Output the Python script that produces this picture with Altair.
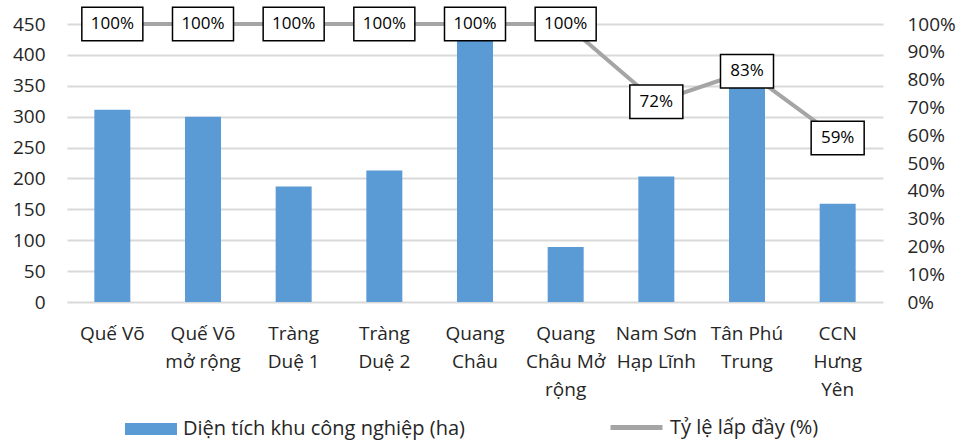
import altair as alt
import pandas as pd

# Industrial parks: area (ha) and occupancy rate
parks = [
    "Quế Võ",
    "Quế Võ\nmở rộng",
    "Tràng\nDuệ 1",
    "Tràng\nDuệ 2",
    "Quang\nChâu",
    "Quang\nChâu Mở\nrộng",
    "Nam Sơn\nHạp Lĩnh",
    "Tân Phú\nTrung",
    "CCN\nHưng\nYên",
]
area_ha = [311, 300, 187, 213, 426, 89, 203, 350, 159]
occupancy = [1.00, 1.00, 1.00, 1.00, 1.00, 1.00, 0.72, 0.83, 0.59]

AREA_NAME = "Diện tích khu công nghiệp (ha)"
RATE_NAME = "Tỷ lệ lấp đầy (%)"

FONT = "Open Sans"
FS = 19
LEG_FS = 20
TXT = "#262626"
BLUE = "#5b9bd5"
GREY = "#a5a5a5"

df = pd.DataFrame({"park": parks, "area": area_ha, "rate": occupancy})
df["area_s"] = AREA_NAME
df["rate_s"] = RATE_NAME
df["label"] = [f"{round(v * 100)}%" for v in occupancy]

# label box outline sized to the label text (path normalised to the widest box)
BOX_MAX = 62.0
def box_path(text):
    hw = (29 + 8 * len(text)) / BOX_MAX
    hh = 33.5 / BOX_MAX
    return f"M{-hw:.3f},{-hh:.3f}L{hw:.3f},{-hh:.3f}L{hw:.3f},{hh:.3f}L{-hw:.3f},{hh:.3f}Z"

df["box"] = [box_path(t) for t in df["label"]]

x_enc = alt.X(
    "park:N",
    sort=None,
    title=None,
    scale=alt.Scale(paddingInner=0.0, paddingOuter=0.0),
    axis=alt.Axis(
        labelAngle=0,
        labelExpr="split(datum.label, '\\n')",
        labelLineHeight=28,
        labelFontSize=FS,
        labelColor=TXT,
        labelPadding=22,
        labelBaseline="top",
        ticks=False,
        domain=False,
        grid=False,
    ),
)

base = alt.Chart(df)

bars = base.mark_bar(size=36).encode(
    x=x_enc,
    y=alt.Y(
        "area:Q",
        title=None,
        scale=alt.Scale(domain=[0, 450], nice=False, clamp=True),
        axis=alt.Axis(
            values=list(range(0, 451, 50)),
            labelFontSize=FS,
            labelColor=TXT,
            labelPadding=22,
            ticks=False,
            domain=False,
            grid=True,
            gridColor="#d9d9d9",
            gridWidth=2,
        ),
    ),
    fill=alt.Fill(
        "area_s:N",
        title=None,
        scale=alt.Scale(domain=[AREA_NAME], range=[BLUE]),
        legend=alt.Legend(
            orient="none",
            legendX=58,
            legendY=379,
            symbolType="M-1,-0.23L1,-0.23L1,0.23L-1,0.23Z",
            symbolSize=2704,
            symbolStrokeWidth=0,
            symbolOpacity=1,
            labelFontSize=LEG_FS,
            labelColor=TXT,
            labelOffset=6,
            labelLimit=500,
            padding=0,
        ),
    ),
)

rate_scale = alt.Scale(domain=[0, 1], nice=False)

line = base.mark_line(strokeWidth=4, strokeCap="round", strokeJoin="round").encode(
    x=x_enc,
    y=alt.Y(
        "rate:Q",
        title=None,
        scale=rate_scale,
        axis=alt.Axis(
            orient="right",
            format=".0%",
            values=[i / 10 for i in range(11)],
            labelFontSize=FS,
            labelColor=TXT,
            labelPadding=24,
            ticks=False,
            domain=False,
            grid=False,
        ),
    ),
    stroke=alt.Stroke(
        "rate_s:N",
        title=None,
        scale=alt.Scale(domain=[RATE_NAME], range=[GREY]),
        legend=alt.Legend(
            orient="none",
            legendX=541,
            legendY=375,
            symbolType="stroke",
            symbolSize=2704,
            symbolStrokeWidth=5,
            labelFontSize=LEG_FS,
            labelColor=TXT,
            labelOffset=5,
            labelLimit=500,
            padding=0,
        ),
    ),
)

boxes = base.mark_point(
    filled=False, fill="white", fillOpacity=1, stroke="black", strokeWidth=1.5, opacity=1
).encode(
    x=x_enc,
    y=alt.Y("rate:Q", scale=rate_scale, axis=None),
    shape=alt.Shape("box:N", scale=None, legend=None),
    size=alt.value(BOX_MAX * BOX_MAX),
)

labels = base.mark_text(fontSize=17, color="black", font=FONT).encode(
    x=x_enc,
    y=alt.Y("rate:Q", scale=rate_scale, axis=None),
    text="label:N",
)

chart = (
    alt.layer(bars, line, boxes, labels)
    .resolve_scale(y="independent", fill="independent", stroke="independent")
    .properties(
        width=816,
        height=278,
        padding={"left": 67, "top": 24, "right": 90, "bottom": 139},
        autosize=alt.AutoSizeParams(type="none"),
        background="white",
    )
    .configure(font=FONT)
    .configure_view(stroke=None)
)

chart.save("out.html", embed_options={"renderer": "svg", "actions": False})
